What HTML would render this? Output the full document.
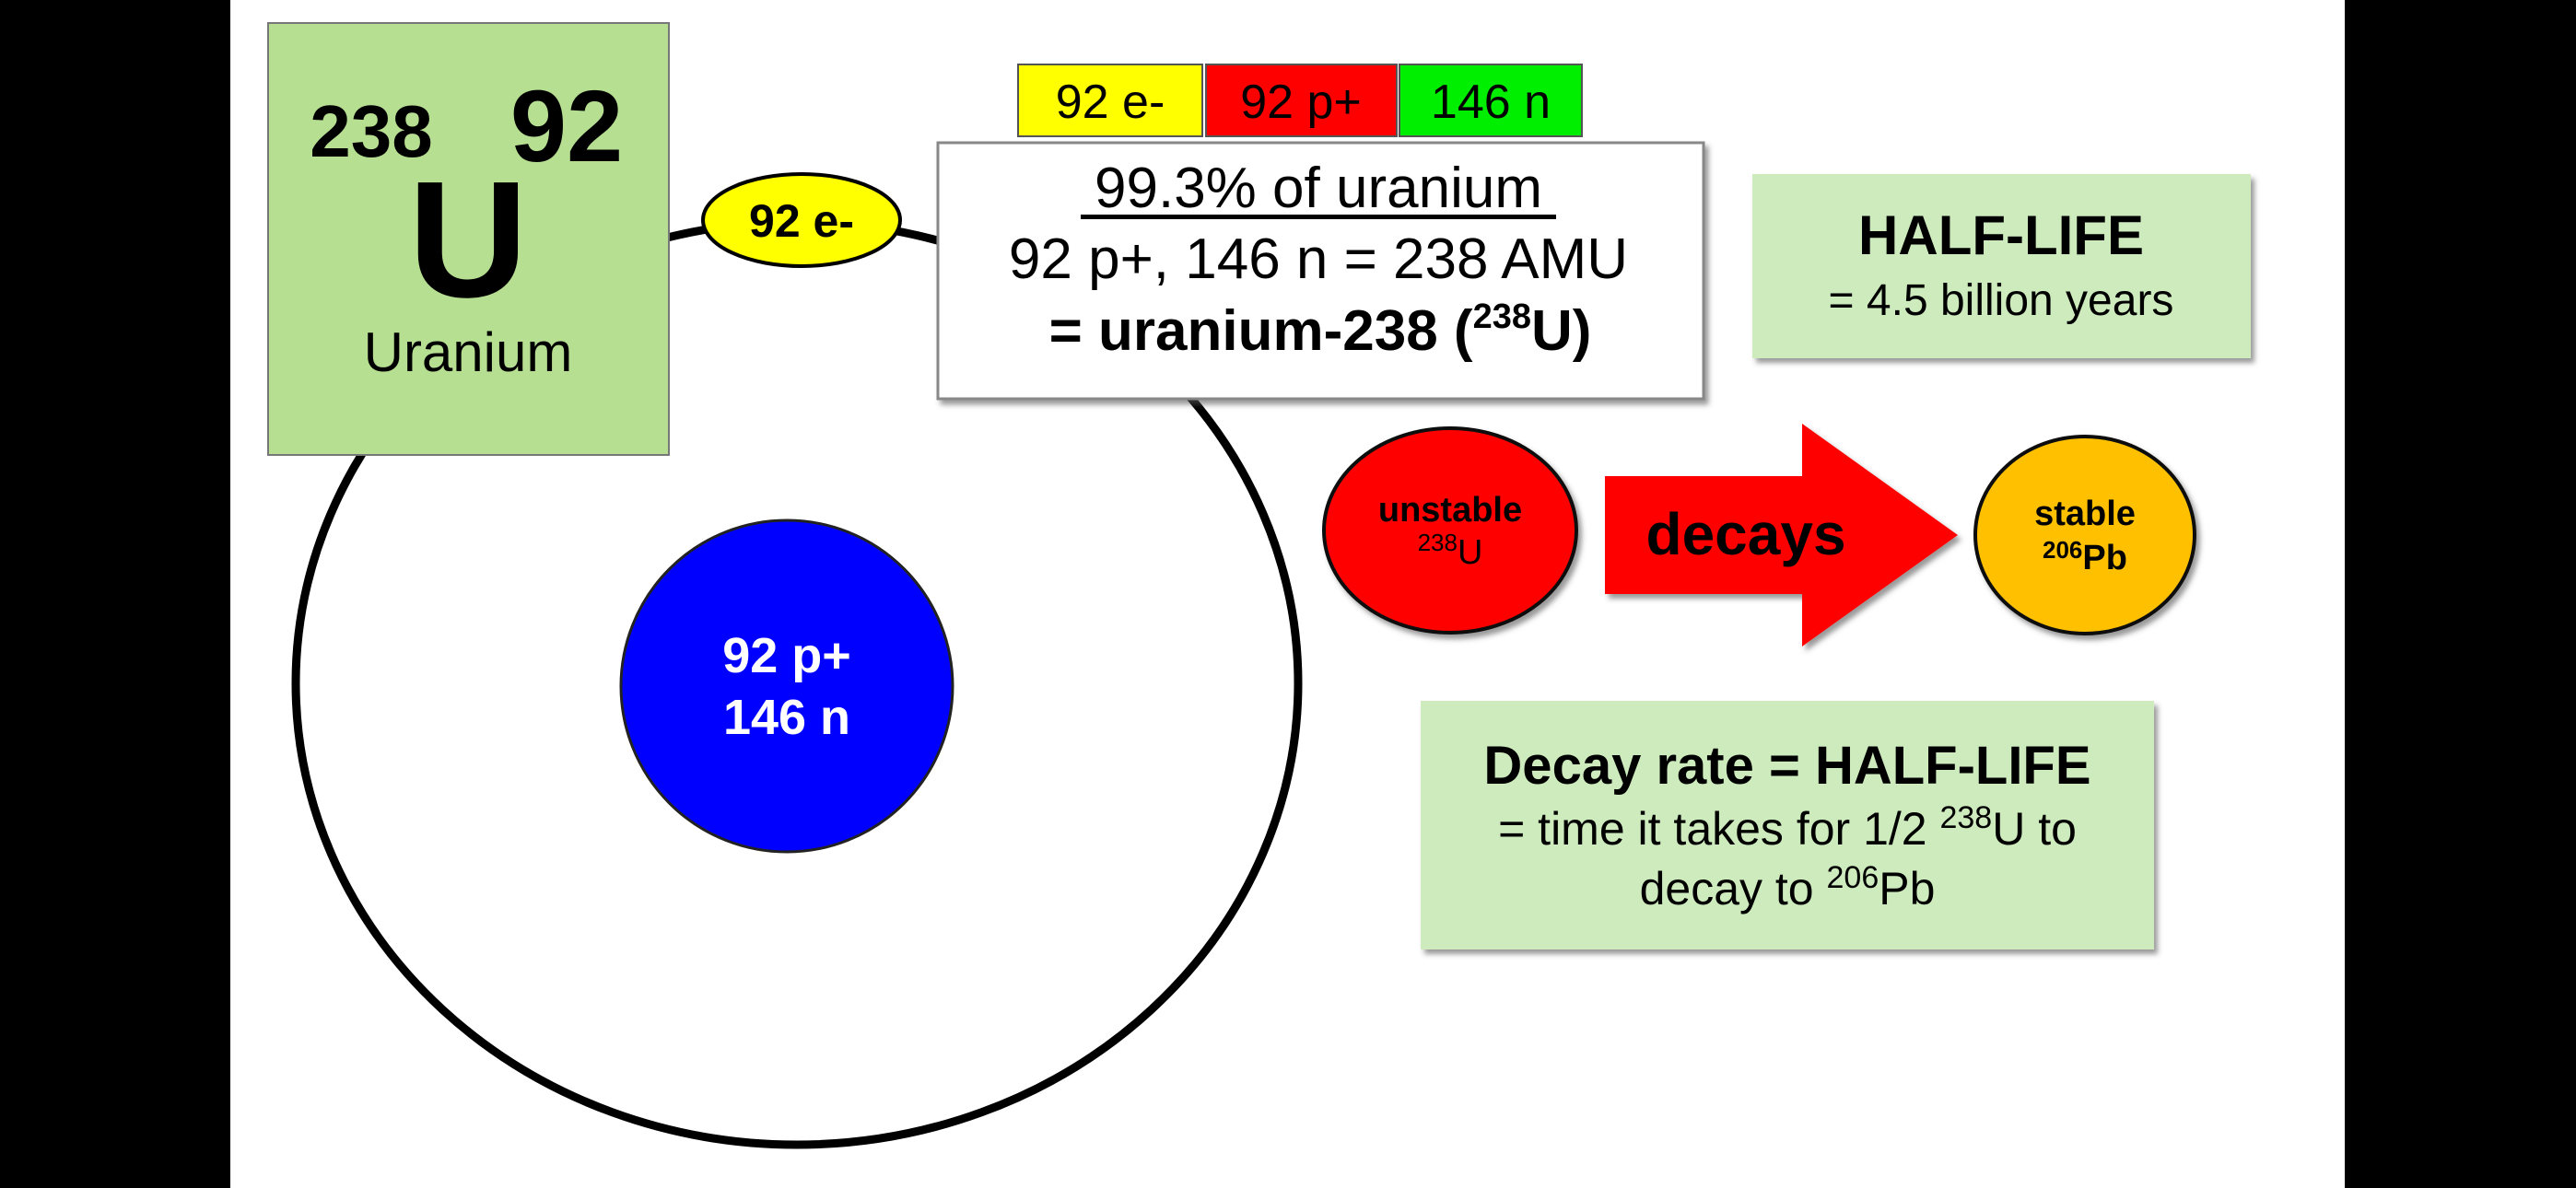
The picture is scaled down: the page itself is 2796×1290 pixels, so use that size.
<!DOCTYPE html>
<html><head><meta charset="utf-8"><style>
html,body{margin:0;padding:0;background:#000;}
svg{display:block;font-family:"Liberation Sans",Arial,sans-serif;}
</style></head><body>
<svg width="2796" height="1290" viewBox="0 0 2796 1290">
<defs><filter id="sh" x="-5%" y="-5%" width="115%" height="120%"><feDropShadow dx="4" dy="5" stdDeviation="3" flood-color="#555" flood-opacity="0.6"/></filter></defs>
<rect x="250" y="0" width="2295" height="1290" fill="#fff"/>
<ellipse cx="865" cy="742" rx="544" ry="501" fill="none" stroke="#000" stroke-width="9"/>
<g>
<circle cx="854" cy="745" r="180" fill="#0000ff" stroke="#222" stroke-width="3"/>
<text x="854" y="730" fill="#fff" font-size="54" font-weight="bold" text-anchor="middle">92 p+</text>
<text x="854" y="797" fill="#fff" font-size="54" font-weight="bold" text-anchor="middle">146 n</text>
</g>
<g>
<rect x="291" y="25" width="435" height="469" fill="#b6df91" stroke="#777" stroke-width="2"/>
<text x="403" y="170" font-size="80" font-weight="bold" text-anchor="middle">238</text>
<text x="615" y="175" font-size="110" font-weight="bold" text-anchor="middle">92</text>
<text x="508" y="322" font-size="180" font-weight="bold" text-anchor="middle">U</text>
<text x="508" y="403" font-size="60" text-anchor="middle">Uranium</text>
</g>
<g>
<ellipse cx="870" cy="239" rx="107" ry="50" fill="#ffff00" stroke="#000" stroke-width="4"/>
<text x="870" y="257" font-size="50" font-weight="bold" text-anchor="middle">92 e-</text>
</g>
<g>
<rect x="1105" y="70" width="200" height="78" fill="#ffff00" stroke="#555" stroke-width="2"/>
<text x="1205" y="128" font-size="52" text-anchor="middle">92 e-</text>
<rect x="1309" y="70" width="207" height="78" fill="#ff0000" stroke="#555" stroke-width="2"/>
<text x="1412" y="128" font-size="52" text-anchor="middle">92 p+</text>
<rect x="1519" y="70" width="198" height="78" fill="#00ee00" stroke="#555" stroke-width="2"/>
<text x="1618" y="128" font-size="52" text-anchor="middle">146 n</text>
</g>
<g>
<rect x="1018" y="155" width="831" height="278" fill="#fff" stroke="#888" stroke-width="3" filter="url(#sh)"/>
<text x="1431" y="225" font-size="62" text-anchor="middle">99.3% of uranium</text>
<rect x="1173" y="233" width="516" height="5" fill="#000"/>
<text x="1431" y="302" font-size="62" text-anchor="middle">92 p+, 146 n = 238 AMU</text>
<text x="1433" y="380" font-size="62" text-anchor="middle" font-weight="bold">= uranium-238 (<tspan font-size="38" dy="-24">238</tspan><tspan dy="24">U)</tspan></text>
</g>
<g>
<rect x="1902" y="189" width="541" height="200" fill="#cdebbd" filter="url(#sh)"/>
<text x="2172" y="276" font-size="60" font-weight="bold" text-anchor="middle">HALF-LIFE</text>
<text x="2172" y="342" font-size="48" text-anchor="middle">= 4.5 billion years</text>
</g>
<g>
<ellipse cx="1574" cy="576" rx="137" ry="111" fill="#ff0000" stroke="#111" stroke-width="4" filter="url(#sh)"/>
<text x="1574" y="566" font-size="38" font-weight="bold" text-anchor="middle">unstable</text>
<text x="1574" y="612" font-size="38" text-anchor="middle"><tspan font-size="26" dy="-14">238</tspan><tspan dy="14">U</tspan></text>
</g>
<g>
<polygon points="1742,517 1956,517 1956,460 2125,581 1956,702 1956,645 1742,645" fill="#ff0000" filter="url(#sh)"/>
<text x="1895" y="602" font-size="64" font-weight="bold" text-anchor="middle">decays</text>
</g>
<g>
<ellipse cx="2263" cy="581" rx="119" ry="107" fill="#ffc000" stroke="#111" stroke-width="4" filter="url(#sh)"/>
<text x="2263" y="570" font-size="38" font-weight="bold" text-anchor="middle">stable</text>
<text x="2263" y="618" font-size="38" font-weight="bold" text-anchor="middle"><tspan font-size="26" dy="-12">206</tspan><tspan dy="12">Pb</tspan></text>
</g>
<g>
<rect x="1542" y="761" width="796" height="270" fill="#cdebbd" filter="url(#sh)"/>
<text x="1940" y="851" font-size="58" font-weight="bold" text-anchor="middle">Decay rate = HALF-LIFE</text>
<text x="1940" y="917" font-size="50" text-anchor="middle">= time it takes for 1/2 <tspan font-size="34" dy="-18">238</tspan><tspan dy="18">U to</tspan></text>
<text x="1940" y="982" font-size="50" text-anchor="middle">decay to <tspan font-size="34" dy="-18">206</tspan><tspan dy="18">Pb</tspan></text>
</g>
</svg>
</body></html>
